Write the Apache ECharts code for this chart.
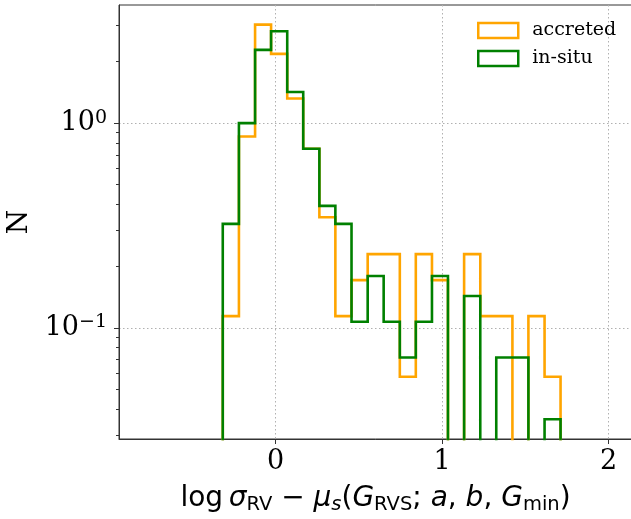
<!DOCTYPE html>
<html><head><meta charset="utf-8">
<script src="https://cdn.jsdelivr.net/npm/echarts@6/dist/echarts.min.js"></script>
<style>html,body{margin:0;padding:0;background:#fff}#c{width:631px;height:519px}</style>
</head><body><div id="c"></div>
<script>
// ---- data ----
const binEdges = [-0.317, -0.220, -0.123, -0.027, 0.070, 0.166, 0.263, 0.359, 0.456, 0.553, 0.649,
                  0.746, 0.842, 0.939, 1.035, 1.132, 1.229, 1.325, 1.422, 1.518, 1.615, 1.711];
const accreted = [0.114, 0.860, 3.03, 2.18, 1.32, 0.749, 0.347, 0.114, 0.171, 0.229, 0.229,
                  0.0576, 0.229, 0.171, 0, 0.229, 0.114, 0.114, 0, 0.114, 0.0576];
const inSitu   = [0.322, 1.0, 2.28, 2.81, 1.42, 0.749, 0.394, 0.322, 0.107, 0.179, 0.107,
                  0.0716, 0.107, 0.179, 0, 0.143, 0, 0.0716, 0.0716, 0, 0.0357];
const seriesNames = ['accreted', 'in-situ'];
const xTicks = [0, 1, 2];
const yTicks = [0.1, 1];
const yTickExp = ['\u22121', '0'];
const yMinorTicks = [0.03, 0.04, 0.05, 0.06, 0.07, 0.08, 0.09, 0.2, 0.3, 0.4, 0.5, 0.6, 0.7, 0.8, 0.9, 2, 3];

// ---- build step outline (histtype='step') from the arrays ----
function stepPath(edges, vals) {
  const floor = 1e-4; // empty bins drop below the axis (clipped)
  const pts = [[edges[0], floor]];
  vals.forEach((v, i) => {
    const y = v > 0 ? v : floor;
    pts.push([edges[i], y]);
    pts.push([edges[i + 1], y]);
  });
  pts.push([edges[edges.length - 1], floor]);
  return pts;
}

const ORANGE = '#FFA500', GREEN = '#008000', SPINE = '#333333', GRIDC = '#b0b0b0';
const YMIN = 0.0286, YMAX = 3.778;

const chart = echarts.init(document.getElementById('c'), null, {renderer: 'canvas'});
chart.setOption({
  animation: false,
  backgroundColor: '#fff',
  grid: {left: 119, top: 5, width: 523, height: 434, containLabel: false, outerBoundsMode: 'none',
         show: true, borderColor: SPINE, borderWidth: 1, backgroundColor: 'transparent'},
  legend: {
    orient: 'vertical', left: 477, top: 21, padding: 0, itemWidth: 40, itemHeight: 15, itemGap: 9,
    selectedMode: false,
    textStyle: {fontFamily: 'DejaVu Serif', fontSize: 19, color: '#000', padding: [0, 0, 0, 9]},
    data: [
      {name: seriesNames[0], icon: 'rect', itemStyle: {color: '#fff', borderColor: ORANGE, borderWidth: 2.5}},
      {name: seriesNames[1], icon: 'rect', itemStyle: {color: '#fff', borderColor: GREEN, borderWidth: 2.5}}
    ]
  },
  xAxis: {
    type: 'value', min: -0.94, max: 2.2,
    axisLine: {show: true, onZero: false, lineStyle: {color: SPINE, width: 1}},
    axisTick: {show: true, customValues: xTicks, length: 5, lineStyle: {color: SPINE}},
    axisLabel: {customValues: xTicks, fontFamily: 'DejaVu Serif', fontSize: 27, color: '#000', margin: 9},
    splitLine: {show: true, lineStyle: {color: GRIDC, type: [1.5, 2.5], width: 1}},
    name: '{n|log\u2009}{i|\u03C3}{s|RV}{n| \u2212 }{i|\u03BC}{is|s}{n|(}{i|G}{s|RVS}{n|; }{i|a}{n|, }{i|b}{n|, }{i|G}{s|min}{n|)}',
    nameLocation: 'middle', nameGap: 44,
    nameTextStyle: {
      padding: [0, 10, 0, 0],
      rich: {
        n: {fontFamily: 'DejaVu Sans', fontSize: 28, color: '#000', lineHeight: 32},
        i: {fontFamily: 'DejaVu Sans', fontStyle: 'italic', fontSize: 28, color: '#000', lineHeight: 32},
        s: {fontFamily: 'DejaVu Sans', fontSize: 19.5, color: '#000', lineHeight: 20, verticalAlign: 'bottom'},
        is: {fontFamily: 'DejaVu Sans', fontStyle: 'italic', fontSize: 19.5, color: '#000', lineHeight: 20, verticalAlign: 'bottom'}
      }
    }
  },
  yAxis: [{
    type: 'log', logBase: 10, min: YMIN, max: YMAX,
    axisLine: {show: true, onZero: false, lineStyle: {color: SPINE, width: 1}},
    axisTick: {show: true, customValues: yTicks, length: 5, lineStyle: {color: SPINE}},
    axisLabel: {
      customValues: yTicks, margin: 12,
      formatter: (v) => { const k = yTicks.findIndex(t => Math.abs(t - v) < 1e-9); return '{b|10}{p|' + (k >= 0 ? yTickExp[k] : '') + '}'; },
      rich: {
        b: {fontFamily: 'DejaVu Serif', fontSize: 27, color: '#000', lineHeight: 30},
        p: {fontFamily: 'DejaVu Serif', fontSize: 19, color: '#000', lineHeight: 19, verticalAlign: 'top'}
      }
    },
    splitLine: {show: true, lineStyle: {color: GRIDC, type: [1.5, 2.5], width: 1}},
    name: 'N', nameLocation: 'middle', nameRotate: 90, nameGap: 85,
    nameTextStyle: {fontFamily: 'DejaVu Serif', fontSize: 28, color: '#000'}
  }, {
    type: 'log', logBase: 10, min: YMIN, max: YMAX, position: 'left',
    axisLine: {show: false, onZero: false},
    axisTick: {show: true, customValues: yMinorTicks, length: 3, lineStyle: {color: SPINE}},
    axisLabel: {show: false},
    splitLine: {show: false}
  }],
  series: [
    {name: seriesNames[0], type: 'line', data: stepPath(binEdges, accreted), showSymbol: false, symbol: 'none', clip: true,
     lineStyle: {color: ORANGE, width: 2.6, join: 'miter', cap: 'butt'}, itemStyle: {color: ORANGE}, z: 3},
    {name: seriesNames[1], type: 'line', data: stepPath(binEdges, inSitu), showSymbol: false, symbol: 'none', clip: true,
     lineStyle: {color: GREEN, width: 2.6, join: 'miter', cap: 'butt'}, itemStyle: {color: GREEN}, z: 4}
  ]
});
</script></body></html>
